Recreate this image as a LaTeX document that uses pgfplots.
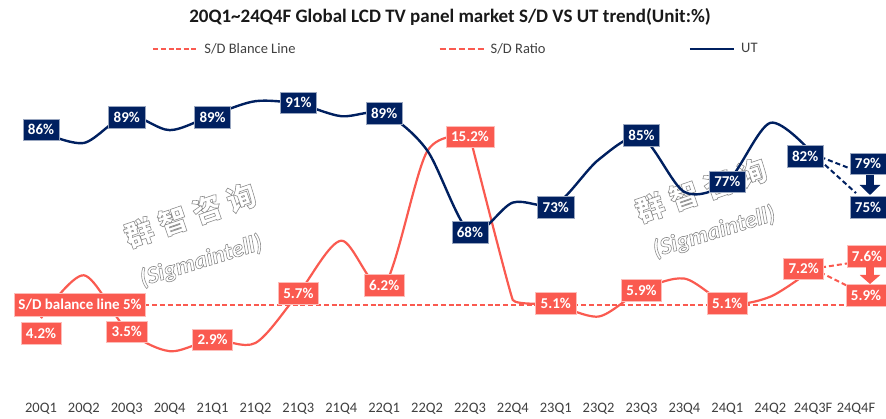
\documentclass[border=0pt]{standalone}
\usepackage{fontspec}
\setmainfont{Carlito}
\newfontfamily\cjk{Noto Sans CJK SC}
\usepackage{pgfplots}
\pgfplotsset{compat=1.18}
\usepackage{pgfplotstable}
\usetikzlibrary{arrows.meta}
\definecolor{navy}{HTML}{002060}
\definecolor{sdred}{HTML}{FA5A50}
\definecolor{ticktxt}{HTML}{404040}
\newcommand\hollow[1]{\special{pdf:literal direct 1 Tr 0.6 w 0.55 G}#1\special{pdf:literal direct 0 Tr 0 G}}

% S/D ratio (%) by quarter index 0=20Q1 ... 18=24Q3F
\pgfplotstableread{
x y
0 4.2
1 6.8
2 3.5
3 2.2
4 2.9
5 2.7
6 5.7
7 8.9
8 6.2
9 14.3
10 15.2
11 5.3
12 5.1
13 4.3
14 5.9
15 6.6
16 5.1
17 5.5
18 7.2
}\sdratio

\pgfplotstableread{
x y lab dx dy
0 4.2 4.2 0 -15
2 3.5 3.5 0 -2
4 2.9 2.9 0 0
6 5.7 5.7 0 0
8 6.2 6.2 0 0
10 15.2 15.2 0 0
12 5.1 5.1 0 0
14 5.9 5.9 0 0
16 5.1 5.1 0 0
18 7.2 7.2 -9.5 0
19 7.6 7.6 11 6
19 5.9 5.9 10 -5
}\sdlabels

% UT (%)
\pgfplotstableread{
x y
0 86
1 84
2 89
3 86.3
4 89
5 91.5
6 91
7 88.8
8 89.3
9 82.7
10 68
11 73.3
12 73
13 81
14 85
15 75.2
16 77
17 87.6
18 82
}\utdata

\pgfplotstableread{
x y lab dx dy
0 86 86 0 2
2 89 89 0 -2
4 89 89 0 -2
6 91 91 0 1
8 89.3 89 0 0
10 68 68 0 0
12 73 73 0 -3
14 85 85 0 2
16 77 77 0 0
18 82 82 -8 -2
19 79 79 12 7
19 75 75 12 -14
}\utlabels

\pgfplotsset{
  base/.style={
    scale only axis, width=815pt, height=330pt,
    at={(41pt,31.5pt)}, anchor=south west,
    xmin=0, xmax=19, clip=false,
    axis line style={draw=none}, tick style={draw=none},
    ytick=\empty,
  },
  lbl/.style={
    draw=none,
    point meta=explicit symbolic,
    visualization depends on={\thisrow{dx} \as \dx},
    visualization depends on={\thisrow{dy} \as \dy},
    nodes near coords={\pgfplotspointmeta\%},
    nodes near coords style={anchor=center, xshift=\dx, yshift=\dy,
      fill=#1, draw=white!60!#1, line width=0.6pt, text=white,
      font=\fontsize{15}{15}\selectfont\bfseries,
      inner xsep=5pt, inner ysep=0pt, minimum height=21.5pt,
      text height=10pt, text depth=0pt},
  },
}

\begin{document}
\begin{tikzpicture}
\path[use as bounding box] (0,0) rectangle (886pt,419pt);

% watermarks
\node[rotate=19, text=white] at (190pt,204pt) {\cjk\bfseries\fontsize{29}{29}\selectfont\hollow{群\hspace{7pt}智\hspace{7pt}咨\hspace{7pt}询}};
\node[rotate=17, text=white] at (201pt,158pt) {\bfseries\itshape\fontsize{24}{24}\selectfont\hollow{(Sigmaintell)}};
\node[rotate=19, text=white] at (701pt,229pt) {\cjk\bfseries\fontsize{29}{29}\selectfont\hollow{群\hspace{7pt}智\hspace{7pt}咨\hspace{7pt}询}};
\node[rotate=17, text=white] at (714pt,187pt) {\bfseries\itshape\fontsize{24}{24}\selectfont\hollow{(Sigmaintell)}};

% title
\node[font=\fontsize{19}{19}\selectfont\bfseries, text=black!90] at (450pt,402pt)
  {20Q1\textasciitilde 24Q4F Global LCD TV panel market S/D VS UT trend(Unit:\%)};

% ---------- S/D ratio axis ----------
\begin{axis}[base, ymin=0, ymax=20,
  xtick={0,...,19},
  xticklabels={20Q1,20Q2,20Q3,20Q4,21Q1,21Q2,21Q3,21Q4,22Q1,22Q2,22Q3,22Q4,23Q1,23Q2,23Q3,23Q4,24Q1,24Q2,24Q3F,24Q4F},
  xticklabel style={anchor=base, yshift=-25pt, font=\fontsize{14.5}{15}\selectfont, text=ticktxt},
  legend columns=3,
  legend style={at={(0.1362,1.0258)}, anchor=west, draw=none, fill=none,
    inner sep=0pt, nodes={inner sep=0pt, text=ticktxt},
    font=\fontsize{14.5}{15}\selectfont,
    /tikz/every odd column/.append style={column sep=6pt},
    /tikz/every even column/.append style={column sep=143pt}},
  legend image code/.code={\draw[#1] (0pt,0pt) -- (44pt,0pt);},
]
\addlegendimage{sdred, line width=2.2pt, dash pattern=on 5pt off 2.6pt}
\addlegendentry{S/D Blance Line}
\addlegendimage{sdred, line width=2.2pt, dash pattern=on 6.5pt off 3pt}
\addlegendentry{S/D Ratio}
\addlegendimage{navy, line width=2.6pt}
\addlegendentry{UT}

% balance line
\addplot[forget plot, sdred, line width=2pt, dash pattern=on 5pt off 2.8pt] coordinates {(-0.5,5) (19,5)};
% S/D ratio line (pieces joined behind the data labels)
\addplot[forget plot, sdred, line width=2.2pt, smooth, tension=0.5, restrict x to domain=0:10] table[x=x,y=y] {\sdratio};
\addplot[forget plot, sdred, line width=2.2pt, smooth, tension=0.12, restrict x to domain=10:12] table[x=x,y=y] {\sdratio};
\addplot[forget plot, sdred, line width=2.2pt, smooth, tension=0.5, restrict x to domain=12:18] table[x=x,y=y] {\sdratio};
% forecasts
\addplot[forget plot, sdred, line width=2pt, dash pattern=on 5pt off 3pt] coordinates {(18,7.2) (19,7.6)};
\addplot[forget plot, sdred, line width=2pt, dash pattern=on 5pt off 3pt] coordinates {(18,7.2) (19,5.9)};
% balance label
\addplot[forget plot, draw=none, nodes near coords={S/D balance line 5\%},
  nodes near coords style={anchor=center, fill=sdred, draw=white!60!sdred, line width=0.6pt, text=white,
    font=\fontsize{15}{15}\selectfont\bfseries, inner xsep=4pt, inner ysep=0pt,
    minimum height=23pt, text height=10pt, text depth=0pt}] coordinates {(0.91,5)};
% labels
\addplot[forget plot, lbl=sdred] table[x=x,y=y,meta=lab] {\sdlabels};
\end{axis}

% ---------- UT axis ----------
\begin{axis}[base, ymin=40.1, ymax=99.34, xtick=\empty]
\addplot[navy, line width=2.4pt, smooth, tension=0.5] table[x=x,y=y] {\utdata};
\addplot[navy, line width=2pt, dash pattern=on 5pt off 3pt] coordinates {(18,82) (19,79)};
\addplot[navy, line width=2pt, dash pattern=on 5pt off 3pt] coordinates {(18,82) (19,75)};
\addplot[lbl=navy] table[x=x,y=y,meta=lab] {\utlabels};
\end{axis}

% forecast arrows
\draw[navy, line width=8pt, -{Triangle[width=20pt,length=10pt]}] (870pt,244pt) -- (870pt,224pt);
\draw[sdred, line width=8pt, -{Triangle[width=20pt,length=9pt]}] (870pt,152pt) -- (870pt,135pt);
\end{tikzpicture}
\end{document}
